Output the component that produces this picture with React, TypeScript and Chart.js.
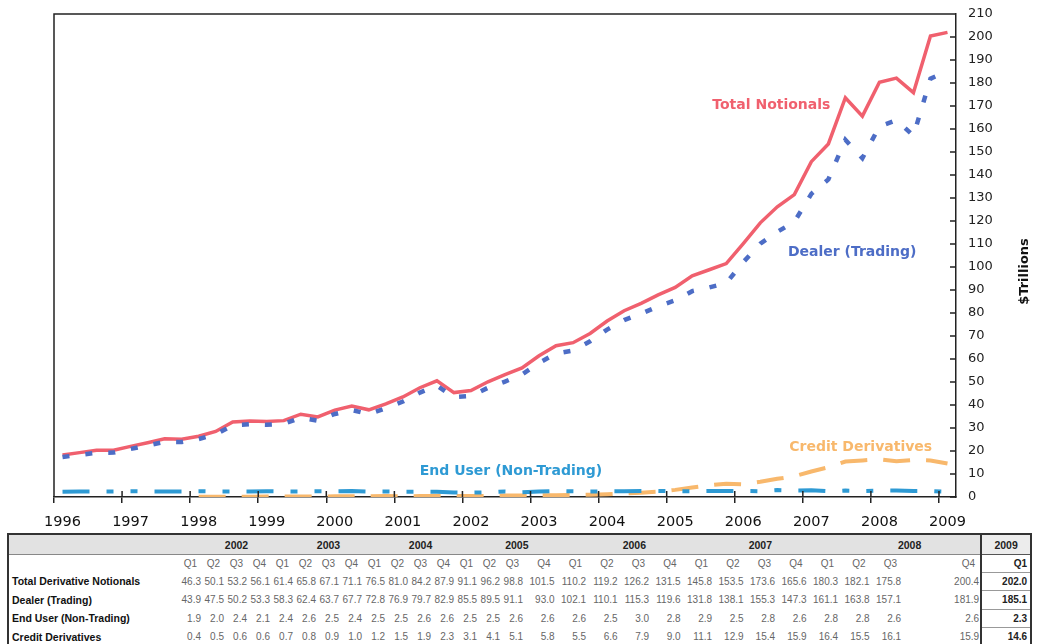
import React, { useEffect, useRef } from 'react';
import { Chart, registerables } from 'chart.js';

Chart.register(...registerables);

// ---------- data ----------
const YEARS = ['1996', '1997', '1998', '1999', '2000', '2001', '2002', '2003', '2004', '2005', '2006', '2007', '2008', '2009'];
const QUARTERS = ['Q1', 'Q2', 'Q3', 'Q4'];

// 1996 Q1 – 2001 Q4
const EARLY_TOTAL = [18.3, 19.3, 20.3, 20.3, 22.0, 23.6, 25.3, 25.1, 26.4, 28.5, 32.6, 33.0, 32.8, 33.2, 36.0, 34.8, 37.8, 39.5, 37.9, 40.5, 43.5, 47.5, 50.5, 45.4];
const EARLY_DEALER = [17.4, 18.3, 19.2, 19.3, 20.9, 22.4, 24.0, 23.9, 25.2, 27.2, 31.2, 31.6, 31.4, 31.8, 34.5, 33.2, 36.1, 37.8, 36.1, 38.6, 41.5, 45.4, 48.4, 43.4];
const EARLY_END_USER = [2.3, 2.4, 2.4, 2.4, 2.5, 2.4, 2.4, 2.4, 2.5, 2.4, 2.4, 2.4, 2.5, 2.4, 2.4, 2.5, 2.5, 2.6, 2.4, 2.4, 2.3, 2.3, 2.3, 2.0];
const EARLY_CREDIT: (number | null)[] = [null, null, null, null, null, null, null, null, 0.1, 0.1, 0.1, 0.1, 0.2, 0.2, 0.2, 0.2, 0.3, 0.3, 0.3, 0.4, 0.3, 0.4, 0.4, 0.4];

// 2002 Q1 – 2009 Q1 (from the table)
const TABLE_YEARS = ['2002', '2003', '2004', '2005', '2006', '2007', '2008'];
const LAST_YEAR = '2009';
const TABLE_TOTAL = [46.3, 50.1, 53.2, 56.1, 61.4, 65.8, 67.1, 71.1, 76.5, 81.0, 84.2, 87.9, 91.1, 96.2, 98.8, 101.5, 110.2, 119.2, 126.2, 131.5, 145.8, 153.5, 173.6, 165.6, 180.3, 182.1, 175.8, 200.4, 202.0];
const TABLE_DEALER = [43.9, 47.5, 50.2, 53.3, 58.3, 62.4, 63.7, 67.7, 72.8, 76.9, 79.7, 82.9, 85.5, 89.5, 91.1, 93.0, 102.1, 110.1, 115.3, 119.6, 131.8, 138.1, 155.3, 147.3, 161.1, 163.8, 157.1, 181.9, 185.1];
const TABLE_END_USER = [1.9, 2.0, 2.4, 2.1, 2.4, 2.6, 2.5, 2.4, 2.5, 2.5, 2.6, 2.6, 2.5, 2.5, 2.6, 2.6, 2.6, 2.5, 3.0, 2.8, 2.9, 2.5, 2.8, 2.6, 2.8, 2.8, 2.6, 2.6, 2.3];
const TABLE_CREDIT = [0.4, 0.5, 0.6, 0.6, 0.7, 0.8, 0.9, 1.0, 1.2, 1.5, 1.9, 2.3, 3.1, 4.1, 5.1, 5.8, 5.5, 6.6, 7.9, 9.0, 11.1, 12.9, 15.4, 15.9, 16.4, 15.5, 16.1, 15.9, 14.6];

const ROW_NAMES = ['Total Derivative Notionals', 'Dealer (Trading)', 'End User (Non-Trading)', 'Credit Derivatives'];
const TABLE_ROWS = [TABLE_TOTAL, TABLE_DEALER, TABLE_END_USER, TABLE_CREDIT];

const SERIES_NAMES = ['Total Notionals', 'Dealer (Trading)', 'End User (Non-Trading)', 'Credit Derivatives'];
// label anchors in data space: [category index, value]
const LABEL_ANCHORS: [number, number][] = [[41.65, 170.4], [46.4, 106.4], [26.35, 11.0], [46.9, 21.8]];

const Y_MIN = 0;
const Y_MAX = 210;
const Y_STEP = 10;
const Y_TITLE = '$Trillions';

const COLORS = ['#F0606E', '#4D6DC6', '#2E9AD4', '#F8B86C'];

// ---------- derived ----------
const QUARTER_LABELS: string[] = [];
YEARS.forEach((y) => {
  QUARTERS.forEach((q) => {
    if (y !== LAST_YEAR || q === 'Q1') QUARTER_LABELS.push(`${y} ${q}`);
  });
});
const TOTAL = [...EARLY_TOTAL, ...TABLE_TOTAL];
const DEALER = [...EARLY_DEALER, ...TABLE_DEALER];
const END_USER = [...EARLY_END_USER, ...TABLE_END_USER];
const CREDIT = [...EARLY_CREDIT, ...TABLE_CREDIT];

const overlayPlugin = {
  id: 'overlay',
  afterDatasetsDraw(chart: any) {
    const { ctx, chartArea: a, scales } = chart;
    const xs = scales.x;
    const ys = scales.y;
    ctx.save();
    ctx.strokeStyle = '#222';
    ctx.lineWidth = 1.5;
    ctx.beginPath();
    ctx.moveTo(a.left, a.bottom);
    ctx.lineTo(a.left, a.top);
    ctx.lineTo(a.right, a.top);
    for (let i = 0; i < QUARTER_LABELS.length; i += 4) {
      const px = (xs.getPixelForValue(i) + xs.getPixelForValue(i - 1)) / 2;
      ctx.moveTo(px, a.bottom - 6);
      ctx.lineTo(px, a.bottom);
    }
    ys.ticks.forEach((t: any) => {
      const py = ys.getPixelForValue(t.value);
      ctx.moveTo(a.right - 6, py);
      ctx.lineTo(a.right, py);
    });
    ctx.stroke();

    // series labels
    ctx.font = 'bold 14px "DejaVu Sans"';
    ctx.textAlign = 'center';
    ctx.textBaseline = 'middle';
    SERIES_NAMES.forEach((name, i) => {
      const [cx, cy] = LABEL_ANCHORS[i];
      ctx.fillStyle = COLORS[i];
      ctx.fillText(name, xs.getPixelForValue(cx), ys.getPixelForValue(cy));
    });

    // rotated axis title
    ctx.save();
    ctx.translate(a.right + 69, (a.top + a.bottom) / 2 + 16);
    ctx.rotate(-Math.PI / 2);
    ctx.font = 'bold 13px "DejaVu Sans"';
    ctx.fillStyle = '#111';
    ctx.fillText(Y_TITLE, 0, 0);
    ctx.restore();
    ctx.restore();
  },
};

function NotionalsChart() {
  const ref = useRef<HTMLCanvasElement>(null);
  useEffect(() => {
    const chart = new Chart(ref.current as HTMLCanvasElement, {
      type: 'line',
      data: {
        labels: QUARTER_LABELS,
        datasets: [
          { label: SERIES_NAMES[0], data: TOTAL, borderColor: COLORS[0], borderWidth: 3.5, order: 1 },
          { label: SERIES_NAMES[1], data: DEALER, borderColor: COLORS[1], borderWidth: 4.5, borderDash: [7, 16], order: 0 },
          { label: SERIES_NAMES[2], data: END_USER, borderColor: COLORS[2], borderWidth: 4, borderDash: [27, 17, 7, 17, 7, 17], order: 2 },
          { label: SERIES_NAMES[3], data: CREDIT, borderColor: COLORS[3], borderWidth: 4, borderDash: [27, 16], order: 3 },
        ],
      },
      options: {
        animation: false,
        responsive: false,
        layout: { padding: { left: 54, top: 14, right: 0, bottom: 0 } },
        plugins: { legend: { display: false }, tooltip: { enabled: false } },
        elements: { point: { radius: 0 }, line: { tension: 0, fill: false } },
        scales: {
          x: {
            type: 'category',
            offset: true,
            grid: {
              display: true,
              offset: true,
              drawOnChartArea: false,
              drawTicks: true,
              tickLength: 6,
              lineWidth: 1.5,
              color: (c: any) => (c.index % 4 === 0 ? '#222' : 'rgba(0,0,0,0)'),
            },
            border: { display: true, color: '#222', width: 1.5 },
            ticks: {
              autoSkip: false,
              maxRotation: 0,
              minRotation: 0,
              padding: 11,
              color: '#111',
              font: { family: 'DejaVu Sans', size: 14.5 },
              callback: (_v: any, i: number) => (i % 4 === 0 ? QUARTER_LABELS[i].slice(0, 4) : ''),
            },
            afterFit: (s: any) => {
              s.height = 33;
              s.paddingLeft = 0;
              s.paddingRight = 0;
            },
          },
          y: {
            position: 'right',
            min: Y_MIN,
            max: Y_MAX,
            ticks: { stepSize: Y_STEP, padding: 12, color: '#222', font: { family: 'DejaVu Sans', size: 13 } },
            grid: { display: true, drawOnChartArea: false, drawTicks: false },
            border: { display: true, color: '#222', width: 1.5 },
            afterFit: (s: any) => {
              s.width = 82;
              s.paddingTop = 0;
              s.paddingBottom = 0;
            },
          },
        },
      },
      plugins: [overlayPlugin],
    } as any);
    return () => chart.destroy();
  }, []);
  return <canvas ref={ref} width={1038} height={530} style={{ position: 'absolute', left: 0, top: 0, width: 1038, height: 530 }} />;
}

const dark = '#333';
const headBg = '#e2e2e2';

function DataTable() {
  const colWidths: number[] = TABLE_TOTAL.map((_, i) => (i < 15 ? 23 : i < 27 ? 31.5 : i === 27 ? 79 : 50));
  const lastIdx = TABLE_TOTAL.length - 1;
  const headCell = { background: headBg, borderTop: `2px solid ${dark}`, borderBottom: '1px solid #888', padding: 0 };
  return (
    <table
      style={{
        position: 'absolute',
        left: 7,
        top: 533,
        width: 171 + colWidths.reduce((a, b) => a + b, 0),
        borderCollapse: 'collapse',
        tableLayout: 'fixed',
        fontFamily: '"Liberation Sans", Arial, sans-serif',
        fontSize: 10,
        color: '#666',
        background: '#fff',
      }}
    >
      <colgroup>
        <col style={{ width: 171 }} />
        {colWidths.map((w, i) => (
          <col key={i} style={{ width: w }} />
        ))}
      </colgroup>
      <tbody>
        <tr style={{ height: 20 }}>
          <td style={{ ...headCell, borderLeft: `2px solid ${dark}` }} />
          {TABLE_YEARS.map((y) => (
            <React.Fragment key={y}>
              <td style={headCell} />
              <td colSpan={3} style={{ ...headCell, textAlign: 'center', fontWeight: 'bold', color: '#222', fontSize: 10.5, paddingTop: 2 }}>
                {y}
              </td>
            </React.Fragment>
          ))}
          <td style={{ background: '#ececec', border: `2px solid ${dark}`, borderBottom: '1px solid #555', textAlign: 'center', fontWeight: 'bold', color: '#222', fontSize: 10.5, padding: 0, paddingTop: 2 }}>{LAST_YEAR}</td>
        </tr>
        <tr style={{ height: 18 }}>
          <td style={{ borderLeft: `2px solid ${dark}` }} />
          {TABLE_TOTAL.map((_, i) =>
            i < lastIdx ? (
              <td key={i} style={{ textAlign: 'right', paddingRight: 5, paddingLeft: 0, color: '#666' }}>
                {QUARTERS[i % 4]}
              </td>
            ) : (
              <td key={i} style={{ textAlign: 'right', paddingRight: 3, fontWeight: 'bold', color: '#222', borderLeft: `2px solid ${dark}`, borderRight: `2px solid ${dark}`, borderBottom: '1px solid #999' }}>
                {QUARTERS[0]}
              </td>
            )
          )}
        </tr>
        {TABLE_ROWS.map((row, r) => (
          <tr key={r} style={{ height: 18.5 }}>
            <td style={{ borderLeft: `2px solid ${dark}`, fontWeight: 'bold', color: '#111', paddingLeft: 3, fontSize: 10.5, whiteSpace: 'nowrap', overflow: 'hidden' }}>{ROW_NAMES[r]}</td>
            {row.map((v, i) =>
              i < lastIdx ? (
                <td key={i} style={{ textAlign: 'right', paddingRight: 1, paddingLeft: 0, whiteSpace: 'nowrap' }}>
                  {v.toFixed(1)}
                </td>
              ) : (
                <td key={i} style={{ textAlign: 'right', paddingRight: 3, fontWeight: 'bold', color: '#222', borderLeft: `2px solid ${dark}`, borderRight: `2px solid ${dark}`, borderBottom: '1px solid #999' }}>
                  {v.toFixed(1)}
                </td>
              )
            )}
          </tr>
        ))}
      </tbody>
    </table>
  );
}

export default function App() {
  return (
    <div style={{ position: 'absolute', left: 0, top: 0, width: 1038, height: 644, background: '#fff', overflow: 'hidden' }}>
      <NotionalsChart />
      <DataTable />
    </div>
  );
}
